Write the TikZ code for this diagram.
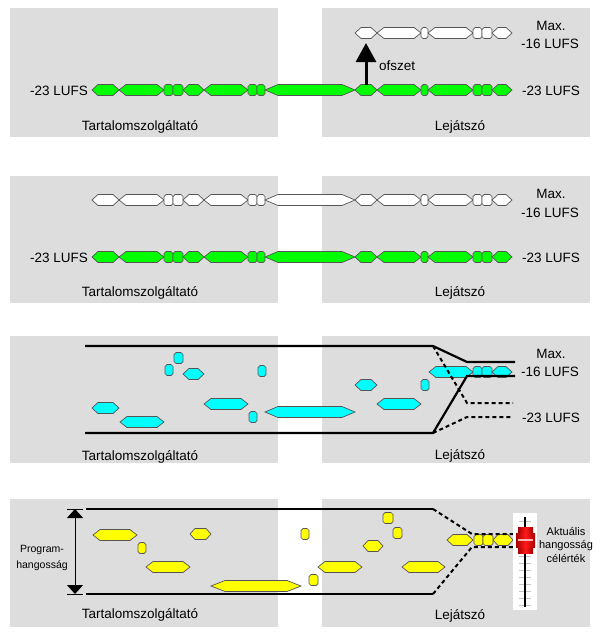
\documentclass[tikz,border=0pt]{standalone}
\usepackage{fontspec}
\setmainfont{Liberation Sans}
\usetikzlibrary{arrows.meta}
\definecolor{panelgray}{HTML}{DDDDDD}
\definecolor{segedge}{HTML}{555555}
\definecolor{sgreen}{HTML}{00FF00}
\definecolor{scyan}{HTML}{00FFFF}
\definecolor{syellow}{HTML}{FFFF00}
\tikzset{
  panel/.style={fill=panelgray, draw=none},
  lbl/.style={font=\fontsize{13.5}{16}\selectfont, inner sep=0pt},
  smalllbl/.style={font=\fontsize{10.5}{13}\selectfont, inner sep=0pt},
  segbase/.style={draw=segedge, line width=0.7, line join=miter},
  greenseg/.style={segbase, fill=sgreen},
  whiteseg/.style={segbase, fill=white},
  cyanseg/.style={segbase, fill=scyan},
  yellowseg/.style={segbase, fill=syellow},
  bound/.style={line width=2.2, black},
  dashb/.style={line width=2, black, dash pattern=on 4pt off 3pt},
}
\newcommand{\hexseg}[5]{\draw[#1] (#2,#4) -- ({#2+#5},{#4-5.5}) -- ({#3-#5},{#4-5.5}) -- (#3,#4) -- ({#3-#5},{#4+5.5}) -- ({#2+#5},{#4+5.5}) -- cycle;}
\newcommand{\octseg}[4]{\draw[#1] (#2,{#4-3.5}) -- ({#2+2},{#4-5.5}) -- ({#3-2},{#4-5.5}) -- (#3,{#4-3.5}) -- (#3,{#4+3.5}) -- ({#3-2},{#4+5.5}) -- ({#2+2},{#4+5.5}) -- (#2,{#4+3.5}) -- cycle;}
\newcommand{\segrow}[2]{\foreach \a/\b/\t/\yy in {#2} {\ifnum\t=0 \octseg{#1}{\a}{\b}{\yy}\else\hexseg{#1}{\a}{\b}{\yy}{\t}\fi}}
\newcommand{\stdrow}[2]{\foreach \a/\b/\t in {92/119/6,119/164/7,164/173/0,173/183/0,183/204/6,204/248/7,248/257/0,257/265/0,265/355/13,355/377/6,377/421/7,421/428/0,428/473/7,473/482/0,482/492/0,492/512/6} {\ifnum\t=0 \octseg{#1}{\a}{\b}{#2}\else\hexseg{#1}{\a}{\b}{#2}{\t}\fi}}
\begin{document}
\begin{tikzpicture}[x=1pt,y=-1pt]
\useasboundingbox (0,0) rectangle (600,640);
% ---------- panels
\fill[panel] (10,8) rectangle (278,137);
\fill[panel] (322,8) rectangle (590,137);
\fill[panel] (10,176) rectangle (278,303);
\fill[panel] (322,176) rectangle (590,303);
\fill[panel] (10,336) rectangle (278,463);
\fill[panel] (322,336) rectangle (590,463);
\fill[panel] (10,499) rectangle (278,627);
\fill[panel] (322,499) rectangle (590,627);

% ---------- panel 1
\stdrow{greenseg}{90}
\segrow{whiteseg}{355/377/6/33,377/421/7/33,421/428/0/33,428/473/7/33,473/482/0/33,482/492/0/33,492/512/6/33}
\coordinate (ofsA) at (366,85);
\coordinate (ofsB) at (366,43);
\draw[line width=3, -{Triangle[width=20pt,length=19pt]}] (ofsA) -- (ofsB);
\node[lbl, anchor=base west] (ofs) at (379,70) {ofszet};
\node[lbl, anchor=base east] (l1) at (88,95) {-23 LUFS};
\node[lbl, anchor=base] (t1) at (140,130) {Tartalomszolgáltató};
\node[lbl, anchor=base] (j1) at (460,130) {Lejátszó};
\node[lbl, anchor=base] (m1) at (551,30) {Max.};
\node[lbl, anchor=base] (s1) at (550,48) {-16 LUFS};
\node[lbl, anchor=base west] (r1) at (522,95) {-23 LUFS};

% ---------- panel 2
\stdrow{whiteseg}{200}
\stdrow{greenseg}{257}
\node[lbl, anchor=base east] (l2) at (88,262) {-23 LUFS};
\node[lbl, anchor=base] (t2) at (140,296) {Tartalomszolgáltató};
\node[lbl, anchor=base] (j2) at (460,296) {Lejátszó};
\node[lbl, anchor=base] (m2) at (551,198) {Max.};
\node[lbl, anchor=base] (s2) at (550,217) {-16 LUFS};
\node[lbl, anchor=base west] (r2) at (522,262) {-23 LUFS};

% ---------- panel 3
\segrow{cyanseg}{92/119/6/408,120/164/7/422,165/173/0/370,174/183/0/358,183/204/6/374,204/248/7/404,249/257/0/417,258/266/0/371,265/355/13/412,355/377/6/385,377/421/7/404,421/429/0/385,429/473/7/372,473/482/0/372,482/492/0/372,492/512/6/372}
\coordinate (a1) at (85,346); \coordinate (a2) at (433,346);
\coordinate (a3) at (467,362); \coordinate (a4) at (515,362);
\coordinate (b1) at (85,433); \coordinate (b2) at (433,433);
\coordinate (b3) at (467,376); \coordinate (b4) at (515,376);
\coordinate (c3) at (467,403); \coordinate (c4) at (513,403);
\coordinate (d3) at (467,417); \coordinate (d4) at (513,417);
\draw[bound] (a1) -- (a2) -- (a3) -- (a4);
\draw[bound] (b1) -- (b2) -- (b3) -- (b4);
\draw[dashb] (a2) -- (c3) -- (c4);
\draw[dashb] (b2) -- (d3) -- (d4);
\node[lbl, anchor=base] (t3) at (140,460) {Tartalomszolgáltató};
\node[lbl, anchor=base] (j3) at (460,459) {Lejátszó};
\node[lbl, anchor=base] (m3) at (551,358) {Max.};
\node[lbl, anchor=base] (s3) at (550,376) {-16 LUFS};
\node[lbl, anchor=base west] (r3) at (522,422) {-23 LUFS};

% ---------- panel 4
\segrow{yellowseg}{93/137/7/535,138/146/0/548,146/190/7/567,190/211/5/534,211/301/14/586,301/309/0/534,309/318/0/580,318/362/7/567,363/383/5/546,383/393/0/518,393/402/0/533,402/445/7/567,447/473/6/540,474/483/0/540,483/493/0/540,493/513/5/540}
\coordinate (e1) at (86,509); \coordinate (e2) at (433,509);
\coordinate (e3) at (472,534); \coordinate (e4) at (513,534);
\coordinate (f1) at (86,594); \coordinate (f2) at (433,594);
\coordinate (f3) at (472,547); \coordinate (f4) at (513,547);
\draw[bound] (e1) -- (e2);
\draw[bound] (f1) -- (f2);
\draw[dashb] (e2) -- (e3) -- (e4);
\draw[dashb] (f2) -- (f3) -- (f4);
% dimension arrow
\coordinate (ph1) at (75,509); \coordinate (ph2) at (75,594);
\draw[line width=0.9] (67,509) -- (83,509);
\draw[line width=0.9] (67,594) -- (83,594);
\draw[line width=1, {Triangle[width=16pt,length=9pt]}-{Triangle[width=16pt,length=9pt]}] (ph1) -- (ph2);
\node[smalllbl, anchor=base] (ph) at (42,552) {Program-};
\node[smalllbl, anchor=base] (hg) at (42,568) {hangosság};
% fader
\fill[white] (513,513) rectangle (537,610);
\foreach \ty in {521,528,...,605} {\draw[gray!45, line width=0.6] (519,\ty) -- (531,\ty);}
\draw[black, line width=1.6] (525,517) -- (525,607);
\shade[left color=red!65!black, right color=red!65!black, middle color=red!90!white] (518,527) rectangle (533,553);
\shade[left color=red!65!black, right color=red!65!black, middle color=red!90!white] (516,533) rectangle (535,547);
\draw[red!30!white, line width=1.5] (518,540) -- (533,540);
\node[smalllbl, font=\fontsize{11}{13}\selectfont, anchor=base] (ak) at (566,535) {Aktuális};
\node[smalllbl, font=\fontsize{11}{13}\selectfont, anchor=base] (hs) at (566,548.5) {hangosság};
\node[smalllbl, font=\fontsize{11}{13}\selectfont, anchor=base] (ce) at (566,562) {célérték};
\node[lbl, anchor=base] (t4) at (140,618) {Tartalomszolgáltató};
\node[lbl, anchor=base] (j4) at (460,619) {Lejátszó};
\end{tikzpicture}
\end{document}
